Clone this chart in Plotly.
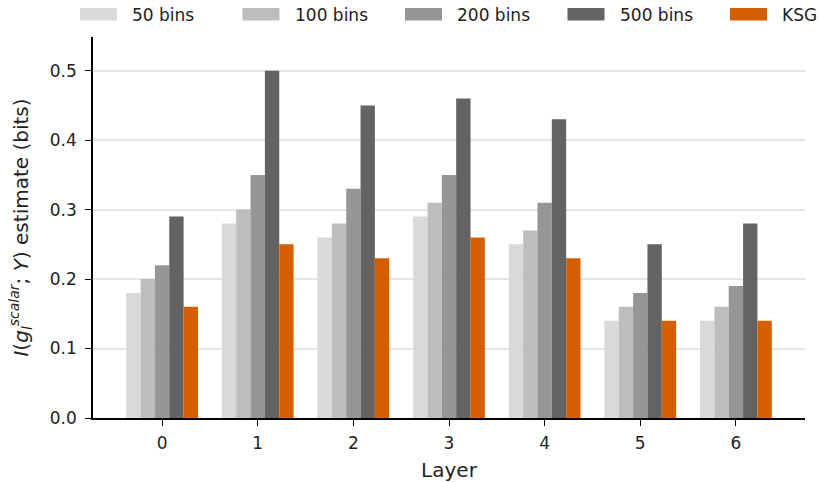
import plotly.graph_objects as go

layers = [0, 1, 2, 3, 4, 5, 6]
series_names = ["50 bins", "100 bins", "200 bins", "500 bins", "KSG"]
bins50 = [0.18, 0.28, 0.26, 0.29, 0.25, 0.14, 0.14]
bins100 = [0.20, 0.30, 0.28, 0.31, 0.27, 0.16, 0.16]
bins200 = [0.22, 0.35, 0.33, 0.35, 0.31, 0.18, 0.19]
bins500 = [0.29, 0.50, 0.45, 0.46, 0.43, 0.25, 0.28]
ksg = [0.16, 0.25, 0.23, 0.26, 0.23, 0.14, 0.14]
colors = ["#d9d9d9", "#bdbdbd", "#969696", "#636363", "#d55e00"]

W, H = 819, 482
ML, MR, MT, MB = 93, 14, 37, 64
PW, PH = W - ML - MR, H - MT - MB

fig = go.Figure()
for name, vals, c in zip(series_names, [bins50, bins100, bins200, bins500, ksg], colors):
    fig.add_trace(go.Bar(x=layers, y=vals, name=name, showlegend=False,
                         marker=dict(color=c, line=dict(width=0))))

def px_x(px):
    return (px - ML) / PW

def px_y(py):
    return (H - MB - py) / PH

# manual legend across the top (swatch + real-text label)
shapes = []
annotations = []
for i, (name, c) in enumerate(zip(series_names, colors)):
    x0 = 80 + i * 162.5
    shapes.append(dict(type="rect", xref="paper", yref="paper",
                       x0=px_x(x0), x1=px_x(x0 + 37), y0=px_y(20.5), y1=px_y(8),
                       fillcolor=c, line=dict(width=0)))
    annotations.append(dict(text=name, xref="paper", yref="paper",
                            x=px_x(x0 + 50), y=px_y(14.5), xanchor="left", yanchor="middle",
                            showarrow=False, font=dict(size=17, color="#222")))

font = "DejaVu Sans, sans-serif"
fig.update_layout(
    width=W, height=H,
    margin=dict(l=ML, r=MR, t=MT, b=MB, autoexpand=False),
    plot_bgcolor="white", paper_bgcolor="white",
    barmode="group", bargap=0.25, bargroupgap=0,
    font=dict(family=font, size=17, color="#222"),
    showlegend=False,
    shapes=shapes, annotations=annotations,
    xaxis=dict(range=[-0.7225, 6.7225], tickmode="array", tickvals=layers,
               ticktext=[str(l) for l in layers],
               showline=True, linecolor="black", linewidth=1.5,
               ticks="outside", ticklen=6, tickcolor="black", tickwidth=1.3,
               ticklabelstandoff=3,
               showgrid=False, zeroline=False, tickfont=dict(size=17),
               title=dict(text="Layer", font=dict(size=20), standoff=11)),
    yaxis=dict(range=[0, 0.5485], tickmode="array", tickvals=[0, 0.1, 0.2, 0.3, 0.4, 0.5],
               ticktext=["0.0", "0.1", "0.2", "0.3", "0.4", "0.5"],
               showline=True, linecolor="black", linewidth=1.5,
               ticks="outside", ticklen=6, tickcolor="black", tickwidth=1.3,
               ticklabelstandoff=5,
               showgrid=True, gridcolor="#e5e5e5", gridwidth=1.5, zeroline=False,
               tickfont=dict(size=17),
               title=dict(text="<i>I</i>(<i>g</i><sub><i>l</i></sub><sup><i>scalar</i></sup>; <i>Y</i>) estimate (bits)",
                          font=dict(size=20), standoff=16)),
)
# remove the default 8px page margin so the figure fills the window exactly
fig.write_html("out.html", config={"displayModeBar": False},
               post_script="document.body.style.margin='0';document.body.style.overflow='hidden';")
